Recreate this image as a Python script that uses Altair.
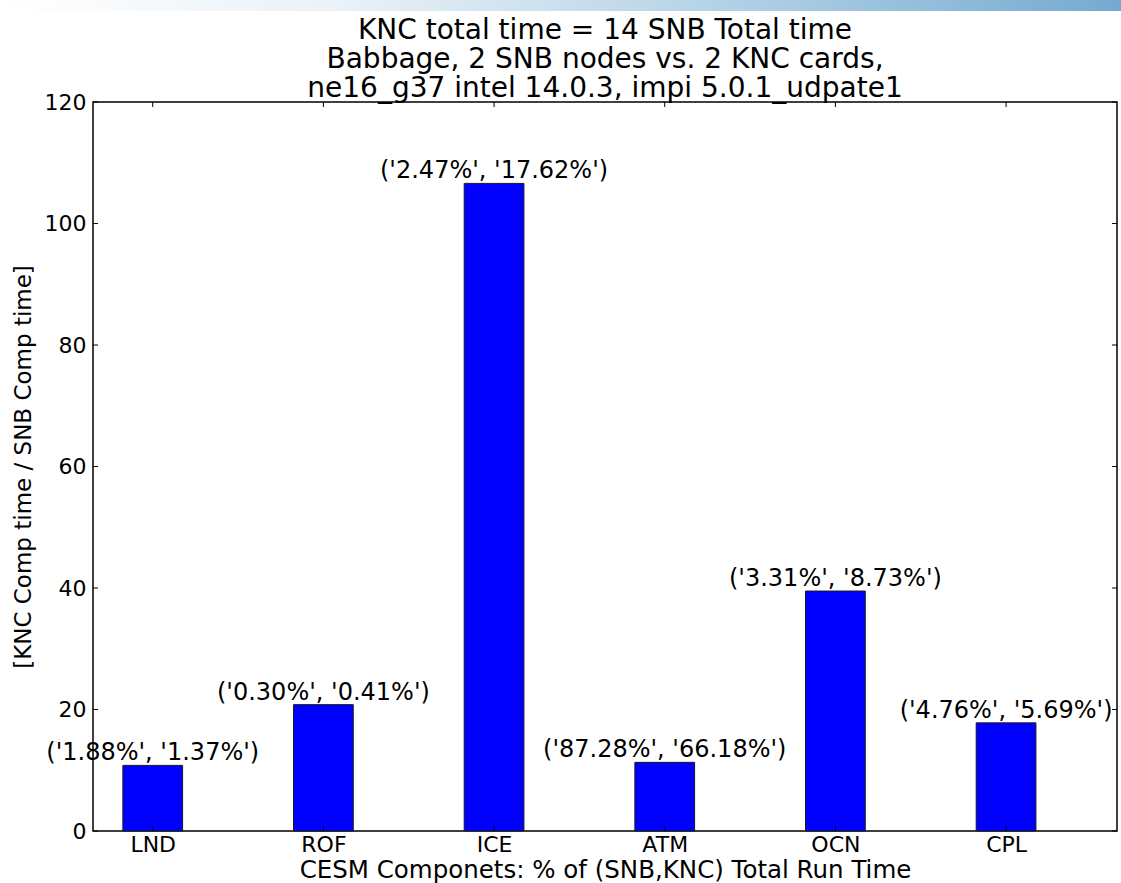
import altair as alt
import pandas as pd

# CESM component timings: KNC / SNB component-time ratio and share of total run time
components = ["LND", "ROF", "ICE", "ATM", "OCN", "CPL"]
ratio = [10.8, 20.8, 106.6, 11.3, 39.5, 17.8]
snb_share = ["1.88%", "0.30%", "2.47%", "87.28%", "3.31%", "4.76%"]
knc_share = ["1.37%", "0.41%", "17.62%", "66.18%", "8.73%", "5.69%"]
y_ticks = [0, 20, 40, 60, 80, 100, 120]

BAR_W = 0.35          # bar width in x units (one unit per component)
FONT = "DejaVu Sans"
W, H = 1024, 729

df = pd.DataFrame({
    "component": components,
    "ratio": ratio,
    "left": [i + BAR_W / 2 for i in range(len(components))],
    "right": [i + 1.5 * BAR_W for i in range(len(components))],
    "center": [i + BAR_W for i in range(len(components))],
    "label": [f"('{s}', '{k}')" for s, k in zip(snb_share, knc_share)],
})
centers = list(df["center"])
ticks_y = pd.DataFrame({"v": y_ticks})
ticks_x = pd.DataFrame({"v": centers})

names_js = "[" + ",".join(f"'{c}'" for c in components) + "]"
x_scale = alt.Scale(domain=[0, len(components)], nice=False, zero=False)
y_scale = alt.Scale(domain=[0, 120], nice=False)

x_axis = alt.Axis(
    values=centers,
    labelExpr=f"{names_js}[round(datum.value - {BAR_W})]",
    title="CESM Componets: % of (SNB,KNC) Total Run Time",
    ticks=False, tickSize=0, domain=False, grid=False,
    labelFontSize=22, titleFontSize=24.5, labelPadding=3, titlePadding=3,
    labelFont=FONT, titleFont=FONT, labelColor="black", titleColor="black",
    titleFontWeight="normal",
)
y_axis = alt.Axis(
    values=y_ticks,
    title="[KNC Comp time / SNB Comp time]",
    ticks=False, tickSize=0, domain=False, grid=False,
    labelFontSize=22, titleFontSize=23, labelPadding=7, titlePadding=9,
    labelFont=FONT, titleFont=FONT, labelColor="black", titleColor="black",
    titleFontWeight="normal",
)

base = alt.Chart(df)

bars = base.mark_rect(color="#0000ff", stroke="#1a1a1a", strokeWidth=1).encode(
    x=alt.X("left:Q", scale=x_scale, axis=x_axis),
    x2="right:Q",
    y=alt.Y("ratio:Q", scale=y_scale, axis=y_axis),
    y2=alt.datum(0),
)

labels = base.mark_text(
    baseline="alphabetic", align="center", dy=-5, fontSize=24, font=FONT, color="black"
).encode(
    x=alt.X("center:Q", scale=x_scale),
    y=alt.Y("ratio:Q", scale=y_scale),
    text="label:N",
)

# inward-pointing tick marks on all four sides of the frame
TL = 5
y_left = alt.Chart(ticks_y).mark_rule(color="black", strokeWidth=1).encode(
    y=alt.Y("v:Q", scale=y_scale), x=alt.value(0), x2=alt.value(TL))
y_right = alt.Chart(ticks_y).mark_rule(color="black", strokeWidth=1).encode(
    y=alt.Y("v:Q", scale=y_scale), x=alt.value(W - TL), x2=alt.value(W))
x_bottom = alt.Chart(ticks_x).mark_rule(color="black", strokeWidth=1).encode(
    x=alt.X("v:Q", scale=x_scale), y=alt.value(H - TL), y2=alt.value(H))
x_top = alt.Chart(ticks_x).mark_rule(color="black", strokeWidth=1).encode(
    x=alt.X("v:Q", scale=x_scale), y=alt.value(0), y2=alt.value(TL))

# slide header band across the top edge
band = alt.Chart(pd.DataFrame({"a": [0]})).mark_rect(
    color=alt.LinearGradient(
        gradient="linear", x1=0, x2=1, y1=0, y2=0,
        stops=[
            alt.GradientStop(offset=0, color="#ffffff"),
            alt.GradientStop(offset=0.3, color="#eaf2f8"),
            alt.GradientStop(offset=0.65, color="#b3d1e6"),
            alt.GradientStop(offset=1, color="#74aad0"),
        ],
    )
).encode(x=alt.value(-93), x2=alt.value(W + 4), y=alt.value(-102), y2=alt.value(-91))

chart = alt.layer(band, bars, labels, y_left, y_right, x_bottom, x_top).properties(
    width=W,
    height=H,
    autosize=alt.AutoSizeParams(type="none"),
    padding={"left": 93, "top": 102, "right": 4, "bottom": 52},
    title=alt.TitleParams(
        text=[
            "KNC total time = 14 SNB Total time",
            "Babbage, 2 SNB nodes vs. 2 KNC cards,",
            "ne16_g37 intel 14.0.3, impi 5.0.1_udpate1",
        ],
        fontSize=28, lineHeight=29, font=FONT, fontWeight="normal",
        color="black", anchor="middle", offset=0, baseline="top", dy=103,
    ),
).configure(background="white").configure_view(stroke="black", strokeWidth=1.5)

chart.save("out.html", embed_options={"renderer": "svg", "actions": False})
